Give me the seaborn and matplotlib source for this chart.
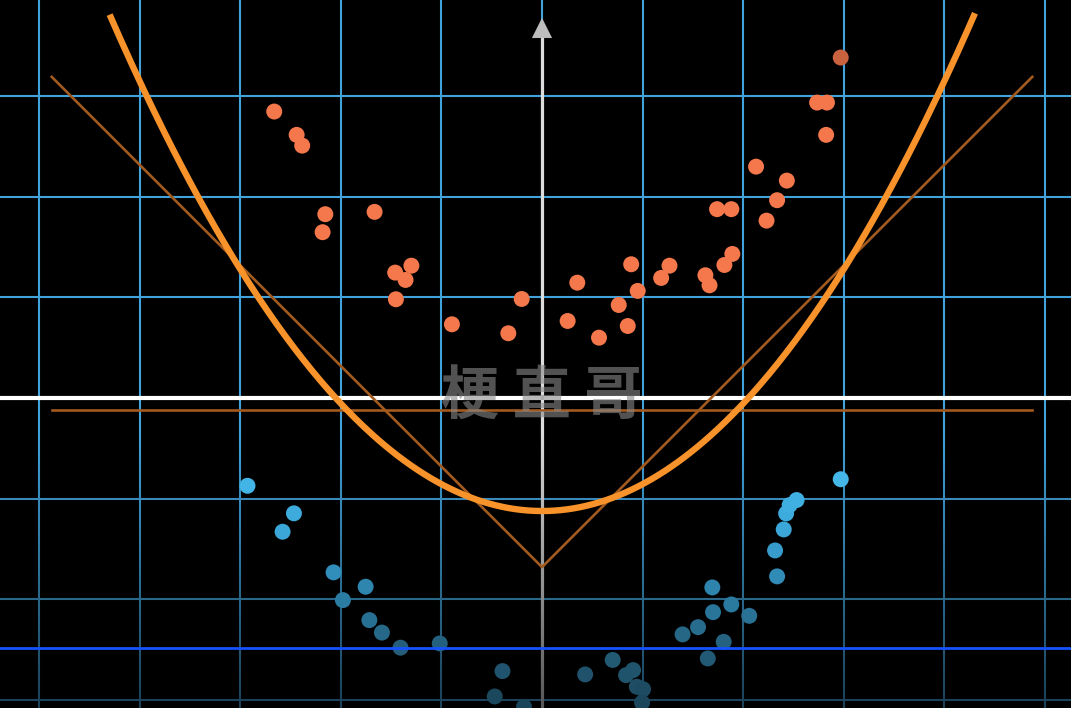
import numpy as np
import pandas as pd
import matplotlib
matplotlib.use("Agg")
import matplotlib.pyplot as plt
from matplotlib.colors import LinearSegmentedColormap
from matplotlib.patches import FancyArrowPatch
import seaborn as sns

# ---------------- data ----------------
orange_x = [-2.663, -2.440, -2.385, -2.155, -2.182, -1.665, -1.460, -1.357, -1.299, -1.453,
            -0.896, -0.202, -0.335, 0.351, 0.255, 0.567, 0.763, 0.853, 0.887, 0.952,
            1.185, 1.268, 1.625, 1.666, 1.814, 1.893, 1.741, 1.883, 2.233, 2.338,
            2.435, 2.129, 2.736, 2.834, 2.826, 2.971]
orange_y = [2.849, 2.617, 2.510, 1.828, 1.649, 1.851, 1.247, 1.174, 1.316, 0.982,
            0.733, 0.985, 0.644, 1.147, 0.766, 0.600, 0.925, 0.716, 1.330, 1.065,
            1.194, 1.316, 1.221, 1.121, 1.323, 1.433, 1.878, 1.878, 1.764, 1.967,
            2.162, 2.301, 2.938, 2.938, 2.617, 3.386]

blue_x = [-2.929, -2.467, -2.580, -2.073, -1.754, -1.980, -1.717, -1.592, -1.407, -1.017,
          -0.393, -0.470, -0.179, 0.429, 0.703, 0.836, 0.906, 0.943, 1.005, 0.995,
          1.398, 1.552, 1.694, 1.701, 1.883, 2.061, 1.807, 1.649, 2.338, 2.318,
          2.404, 2.428, 2.463, 2.532, 2.971]
blue_y = [-0.873, -1.147, -1.330, -1.734, -1.877, -2.010, -2.209, -2.333, -2.483, -2.441,
          -2.716, -2.968, -3.072, -2.749, -2.605, -2.756, -2.706, -2.871, -2.896, -3.030,
          -2.351, -2.279, -1.884, -2.130, -2.053, -2.166, -2.425, -2.590, -1.774, -1.516,
          -1.307, -1.148, -1.065, -1.015, -0.808]

# fitted parabola y = a*x^2 + c (coefficients)
parab_a = 0.267
parab_c = -1.124
parab_xrange = [-4.30, 4.306]

# thin orange reference lines
v_line_x = [-4.876, 0.0, 4.876]
v_line_y = [3.194, -1.682, 3.194]
h_line_x = [-4.876, 4.876]
h_line_y = [-0.119, -0.119]

blue_marker_y = -2.486
watermark = "梗 直 哥"

# ---------------- figure ----------------
W, H = 1071, 708
fig = plt.figure(figsize=(W / 100, H / 100), dpi=100)
ax = fig.add_axes([0, 0, 1, 1])
fig.patch.set_facecolor("black")
ax.set_facecolor("black")

unit = 100.55
x0, y0 = 542, 398
xlim = (-x0 / unit, (W - x0) / unit)
ylim = ((y0 - H) / unit, y0 / unit)

# grid
grid_col = "#42a3dc"
for gx in range(-5, 6):
    ax.axvline(gx, color=grid_col, lw=1.5, zorder=1)
for gy in range(-3, 4):
    ax.axhline(gy, color=grid_col, lw=1.5, zorder=1)

# axes
ax.axhline(0, color="white", lw=3.0, zorder=2)
arrow_base = 3.58
ax.axvline(0, ymin=0, ymax=(arrow_base - ylim[0]) / (ylim[1] - ylim[0]),
           color="#dcdcdc", lw=2.3, zorder=2)
head = FancyArrowPatch((0, arrow_base - 0.02), (0, 3.781), arrowstyle="-|>",
                       color="#bdbdbd", lw=0.1, mutation_scale=36,
                       shrinkA=0, shrinkB=0, zorder=2)
ax.add_patch(head)

# bottom fade overlay (darkens grid/axes toward the bottom)
rows = np.arange(H)
alpha = np.clip((rows - 430) * 0.0022, 0, 0.66)
grad = np.zeros((H, 2, 4))
grad[..., 3] = alpha[:, None]
ax.imshow(grad, extent=[xlim[0], xlim[1], ylim[0], ylim[1]], origin="upper",
          aspect="auto", zorder=3, interpolation="bilinear")

# thin orange lines
thin_col = "#a35a1f"
sns.lineplot(x=v_line_x, y=v_line_y, color=thin_col, lw=1.9, sort=False,
             estimator=None, ax=ax, zorder=4)
sns.lineplot(x=h_line_x, y=h_line_y, color=thin_col, lw=1.9, sort=False,
             estimator=None, ax=ax, zorder=4)

# parabola
px = np.linspace(parab_xrange[0], parab_xrange[1], 400)
py = parab_a * px ** 2 + parab_c
sns.lineplot(x=px, y=py, color="#f7932a", lw=4.6, sort=False, estimator=None,
             ax=ax, zorder=5, solid_capstyle="butt")

# points
orange_df = pd.DataFrame({"x": orange_x, "y": orange_y})
blue_df = pd.DataFrame({"x": blue_x, "y": blue_y})
orange_cmap = LinearSegmentedColormap.from_list("or", ["#f4784b", "#f0744a", "#c8603e"])
blue_cmap = LinearSegmentedColormap.from_list(
    "bl", ["#1a4357", "#235c78", "#2c80a8", "#3aa4d6", "#44b6e8"])
sns.scatterplot(data=orange_df, x="x", y="y", hue="y", palette=orange_cmap,
                hue_norm=(2.85, 3.4), s=132, linewidth=0, legend=False, ax=ax,
                zorder=6)
sns.scatterplot(data=blue_df, x="x", y="y", hue="y", palette=blue_cmap,
                hue_norm=(-3.1, -0.8), s=132, linewidth=0, legend=False, ax=ax,
                zorder=6)

# watermark
ax.text(0, 0, watermark, ha="center", va="center", fontsize=42,
        family=["Noto Sans CJK SC", "DejaVu Sans"], fontweight="bold",
        color="#8a8a8a", alpha=0.6, zorder=7)

# bright blue horizontal line
ax.axhline(blue_marker_y, color="#1652ff", lw=2.0, zorder=8)

ax.set_xlim(*xlim)
ax.set_ylim(*ylim)
ax.set_xticks([])
ax.set_yticks([])
ax.set_xlabel("")
ax.set_ylabel("")
for s in ax.spines.values():
    s.set_visible(False)

fig.savefig("out.png", dpi=100, facecolor="black")
